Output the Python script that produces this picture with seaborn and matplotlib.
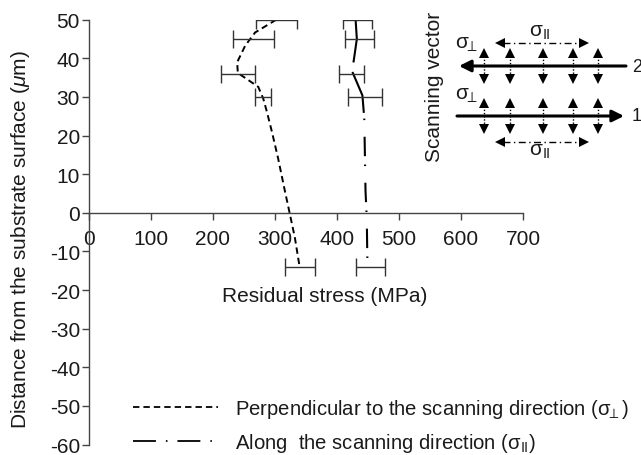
import numpy as np
import pandas as pd
import matplotlib
matplotlib.use("Agg")
import matplotlib.pyplot as plt
import seaborn as sns
from matplotlib.lines import Line2D

# ---------------- data ----------------
x_ticks = [0, 100, 200, 300, 400, 500, 600, 700]
y_ticks = [-60, -50, -40, -30, -20, -10, 0, 10, 20, 30, 40, 50]

# measured points with error bars
perp_depth = [50, 45, 36, 30, -14]
perp_stress = [302, 265, 240, 281, 340]
perp_err = [33, 33, 27, 13, 24]

along_depth = [50, 45, 36, 30, -14]
along_stress = [433, 436, 424, 445, 454]
along_err = [23, 23, 20, 28, 24]

# traced trend curves
perp_curve_depth = [50, 46.7, 43.3, 39, 36.2, 34.7, 32.6, 29.6, 26.1, 21, 14.1, 5.6, 0.4, -6.4, -13.3]
perp_curve_stress = [302, 268, 252, 239, 240, 254, 273, 281, 287, 295, 305, 316, 323, 332, 339]

along_curve_depth = [50, 45, 39.4, 36.8, 30.4, 24.4, 5.6, -1.3, -12.4]
along_curve_stress = [430, 432, 427, 424, 441, 444, 446, 448, 449]
along_split = 6  # upper (mostly solid) part / lower dash-dot part

SIG_PERP = "$\\mathrm{σ}_{\\!\\!\\perp}$"
SIG_PAR = "$\\mathrm{σ}_{\\mathrm{II}}$"
legend_labels = ["Perpendicular to the scanning direction (" + SIG_PERP + ")",
                 "Along  the scanning direction (" + SIG_PAR + ")"]

# ---------------- style ----------------
sns.set_style("ticks")
plt.rcParams["font.family"] = ["Liberation Sans", "DejaVu Sans"]
plt.rcParams["mathtext.fontset"] = "custom"
plt.rcParams["mathtext.rm"] = "Liberation Sans"
plt.rcParams["mathtext.it"] = "Liberation Sans:italic"
plt.rcParams["axes.unicode_minus"] = False
plt.rcParams["lines.scale_dashes"] = False

FS = 15
TXT = "#1a1a1a"
SP = "#444444"

W, H = 641, 456
fig = plt.figure(figsize=(W / 100, H / 100), dpi=100)
L, R, T, B = 89, 523, 20.7, 445.5
ax = fig.add_axes([L / W, 1 - B / H, (R - L) / W, (B - T) / H])
ax.patch.set_alpha(0)

perp_df = pd.DataFrame({"stress": perp_curve_stress, "depth": perp_curve_depth})
along_df = pd.DataFrame({"stress": along_curve_stress, "depth": along_curve_depth})

sns.lineplot(data=perp_df, x="stress", y="depth", sort=False, estimator=None,
             color="k", lw=1.4, ax=ax)
ax.lines[-1].set_dashes((4.6, 2.9))

sns.lineplot(data=along_df.iloc[:along_split], x="stress", y="depth", sort=False,
             estimator=None, color="k", lw=1.5, ax=ax)
ax.lines[-1].set_dashes((31, 7))
sns.lineplot(data=along_df.iloc[along_split - 1:], x="stress", y="depth", sort=False,
             estimator=None, color="k", lw=1.5, ax=ax)
ax.lines[-1].set_dashes((1.1, 12, 14, 6))

ax.errorbar(perp_stress, perp_depth, xerr=perp_err, fmt="none", ecolor="#333333",
            elinewidth=1.0, capsize=6.5, capthick=1.0)
ax.errorbar(along_stress, along_depth, xerr=along_err, fmt="none", ecolor="#333333",
            elinewidth=1.0, capsize=6.5, capthick=1.0)

ax.set_xlim(0, 700)
ax.set_ylim(-60, 50)
ax.set_xticks(x_ticks)
ax.set_xticklabels([str(v) for v in x_ticks])
ax.set_yticks(y_ticks)
ax.set_yticklabels([str(v) for v in y_ticks])
ax.spines["top"].set_visible(False)
ax.spines["right"].set_visible(False)
ax.spines["left"].set_position(("data", 0))
ax.spines["bottom"].set_position(("data", 0))
for s in ("left", "bottom"):
    ax.spines[s].set_color(SP)
    ax.spines[s].set_linewidth(1.0)
ax.tick_params(axis="x", direction="out", length=5, width=1, color=SP,
               labelsize=FS, labelcolor=TXT, pad=7)
ax.tick_params(axis="y", direction="out", length=5, width=1, color=SP,
               labelsize=FS, labelcolor=TXT, pad=1.5)
ax.set_xlabel("")
ax.set_ylabel("")

# axis titles
fig.text(325 / W, 1 - 297 / H, "Residual stress (MPa)", fontsize=FS, color=TXT,
         ha="center", va="center")
fig.text(21 / W, 1 - 240 / H, "Distance from the substrate surface ($\\mu$m)",
         fontsize=FS, color=TXT, rotation=90, ha="center", va="center")

# legend
handles = [Line2D([], [], color="k", lw=1.3, dashes=(4.6, 2.9)),
           Line2D([], [], color="k", lw=1.3, dashes=(16.5, 7.2, 1.1, 7.2))]
leg = ax.legend(handles, legend_labels, loc="upper left",
                bbox_to_anchor=(133 / W, 1 - 398 / H), bbox_transform=fig.transFigure,
                frameon=False, fontsize=14.6, handlelength=4.2, handletextpad=0.85,
                labelspacing=0.55, borderpad=0, borderaxespad=0)
for t in leg.get_texts():
    t.set_color(TXT)

# ---------------- schematic inset (figure pixel space) ----------------
dax = fig.add_axes([0, 0, 1, 1], zorder=5)
dax.set_xlim(0, W)
dax.set_ylim(H, 0)
dax.axis("off")
dax.patch.set_alpha(0)

dax.text(435, 87, "Scanning vector", rotation=90, fontsize=FS, color=TXT,
         ha="center", va="center")
# track 2 (right to left) and track 1 (left to right)
dax.annotate("", xy=(459, 67), xytext=(626, 67),
             arrowprops=dict(arrowstyle="-|>,head_length=0.7,head_width=0.35",
                             lw=2.2, color="k", shrinkA=0, shrinkB=0))
dax.annotate("", xy=(624, 117), xytext=(457, 117),
             arrowprops=dict(arrowstyle="-|>,head_length=0.7,head_width=0.35",
                             lw=2.2, color="k", shrinkA=0, shrinkB=0))
dax.text(632, 67, "2", fontsize=13, color=TXT, ha="left", va="center")
dax.text(632, 117, "1", fontsize=13, color=TXT, ha="left", va="center")

for xc in [484, 510, 543, 573, 598]:
    for yc in (67, 117):
        dax.plot([xc, xc], [yc - 10, yc + 10], color="k", lw=1.0, ls=(0, (1, 1.3)))
        dax.plot([xc], [yc - 13], marker="^", ms=6.5, color="k", mew=0)
        dax.plot([xc], [yc + 13], marker="v", ms=6.5, color="k", mew=0)

for yc in (44, 143):
    dax.plot([503, 581], [yc, yc], color="k", lw=1.0, dashes=(5, 2.5, 1, 2.5))
    dax.plot([500], [yc], marker="<", ms=6.5, color="k", mew=0)
    dax.plot([584], [yc], marker=">", ms=6.5, color="k", mew=0)

dax.text(540, 33, SIG_PAR, fontsize=FS, color=TXT, ha="center", va="center")
dax.text(540, 152, SIG_PAR, fontsize=FS, color=TXT, ha="center", va="center")
dax.text(466, 45, SIG_PERP, fontsize=FS, color=TXT, ha="center", va="center")
dax.text(466, 96, SIG_PERP, fontsize=FS, color=TXT, ha="center", va="center")

fig.savefig("out.png", dpi=100)
